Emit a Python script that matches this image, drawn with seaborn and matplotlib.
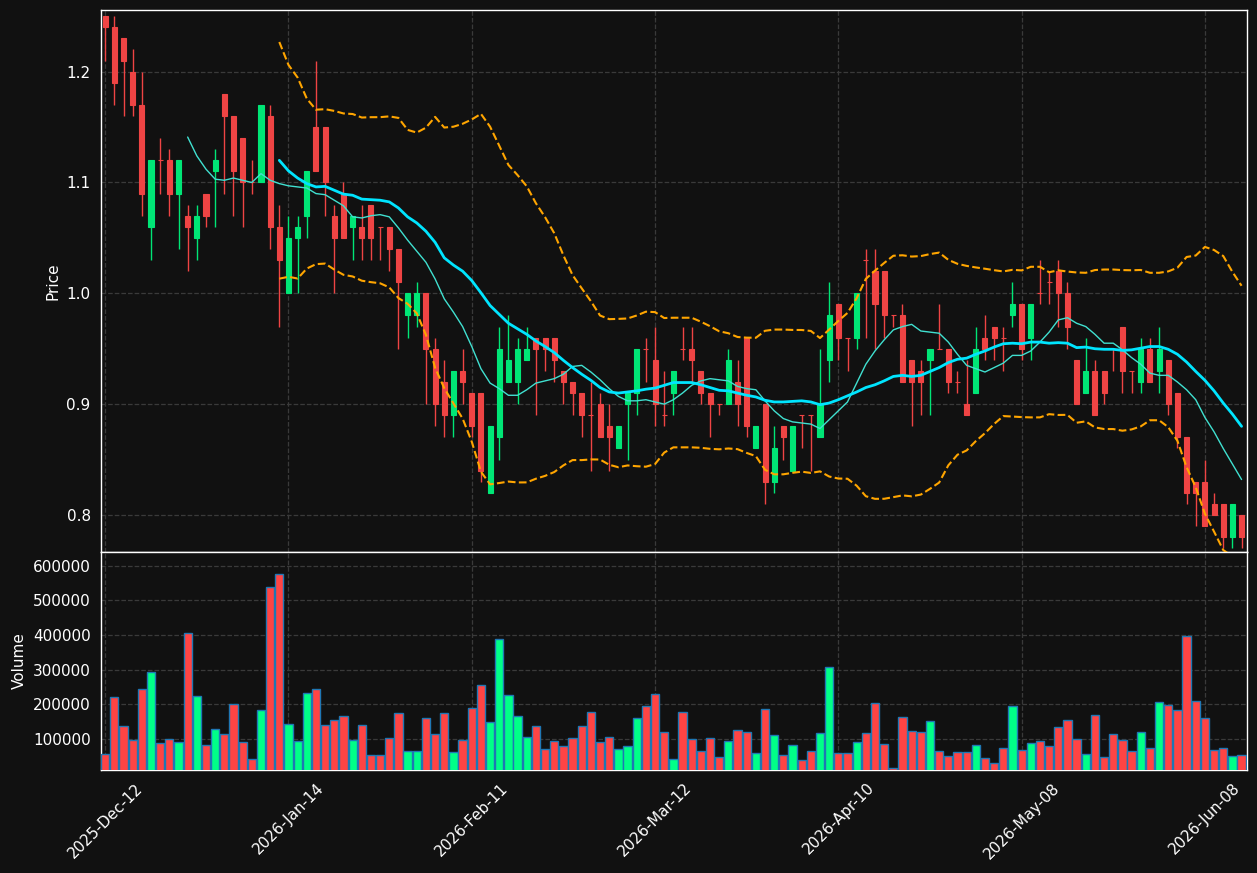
import numpy as np
import pandas as pd
import matplotlib
matplotlib.use("Agg")
import matplotlib.pyplot as plt
import seaborn as sns

opens = [1.25, 1.24, 1.23, 1.20, 1.17, 1.06, 1.12, 1.12, 1.09, 1.07,
         1.05, 1.09, 1.11, 1.18, 1.16, 1.14, 1.10, 1.10, 1.16, 1.06,
         1.00, 1.05, 1.07, 1.15, 1.15, 1.07, 1.09, 1.06, 1.06, 1.08,
         1.06, 1.06, 1.04, 0.98, 0.98, 1.00, 0.95, 0.92, 0.89, 0.93,
         0.91, 0.91, 0.82, 0.87, 0.92, 0.92, 0.94, 0.96, 0.96, 0.96,
         0.93, 0.92, 0.91, 0.89, 0.90, 0.88, 0.86, 0.90, 0.91, 0.95,
         0.94, 0.89, 0.91, 0.95, 0.95, 0.93, 0.91, 0.90, 0.90, 0.92,
         0.96, 0.86, 0.90, 0.83, 0.88, 0.84, 0.89, 0.89, 0.87, 0.94,
         0.99, 0.96, 0.96, 1.03, 1.02, 1.02, 0.98, 0.98, 0.94, 0.93,
         0.94, 0.95, 0.95, 0.92, 0.90, 0.91, 0.96, 0.97, 0.96, 0.98,
         0.99, 0.96, 1.00, 1.01, 1.02, 1.00, 0.94, 0.91, 0.93, 0.93,
         0.95, 0.97, 0.93, 0.92, 0.95, 0.93, 0.94, 0.91, 0.87, 0.83,
         0.83, 0.81, 0.81, 0.78, 0.80]
highs = [1.25, 1.25, 1.23, 1.22, 1.20, 1.12, 1.14, 1.13, 1.12, 1.08,
         1.08, 1.09, 1.13, 1.18, 1.16, 1.14, 1.12, 1.17, 1.17, 1.08,
         1.07, 1.07, 1.11, 1.21, 1.15, 1.08, 1.10, 1.07, 1.08, 1.08,
         1.06, 1.06, 1.04, 1.00, 1.01, 1.00, 0.96, 0.94, 0.93, 0.95,
         0.91, 0.91, 0.88, 0.97, 0.98, 0.96, 0.97, 0.96, 0.96, 0.96,
         0.93, 0.92, 0.91, 0.92, 0.91, 0.90, 0.88, 0.91, 0.95, 0.96,
         0.97, 0.93, 0.93, 0.97, 0.97, 0.93, 0.91, 0.90, 0.95, 0.94,
         0.96, 0.88, 0.90, 0.88, 0.88, 0.88, 0.89, 0.89, 0.95, 1.01,
         0.99, 0.96, 1.00, 1.04, 1.04, 1.02, 0.98, 0.99, 0.94, 0.94,
         0.95, 0.99, 0.95, 0.93, 0.94, 0.97, 0.98, 0.97, 0.97, 1.01,
         0.99, 0.99, 1.03, 1.02, 1.03, 1.01, 0.94, 0.96, 0.94, 0.93,
         0.95, 0.97, 0.93, 0.96, 0.96, 0.97, 0.94, 0.91, 0.87, 0.83,
         0.85, 0.82, 0.81, 0.81, 0.80]
lows = [1.21, 1.17, 1.16, 1.16, 1.07, 1.03, 1.09, 1.07, 1.04, 1.02,
        1.03, 1.06, 1.06, 1.09, 1.07, 1.06, 1.09, 1.10, 1.04, 0.97,
        1.00, 1.00, 1.05, 1.11, 1.07, 1.00, 1.05, 1.03, 1.03, 1.03,
        1.03, 1.02, 0.95, 0.96, 0.97, 0.90, 0.88, 0.87, 0.87, 0.90,
        0.87, 0.83, 0.82, 0.85, 0.92, 0.90, 0.94, 0.89, 0.93, 0.92,
        0.90, 0.89, 0.87, 0.84, 0.87, 0.84, 0.86, 0.85, 0.89, 0.92,
        0.88, 0.88, 0.89, 0.94, 0.92, 0.90, 0.87, 0.89, 0.90, 0.88,
        0.87, 0.86, 0.81, 0.82, 0.85, 0.84, 0.86, 0.84, 0.87, 0.92,
        0.94, 0.93, 0.95, 0.96, 0.95, 0.96, 0.97, 0.92, 0.88, 0.89,
        0.89, 0.95, 0.91, 0.91, 0.89, 0.91, 0.94, 0.94, 0.93, 0.97,
        0.94, 0.94, 0.99, 0.99, 0.97, 0.95, 0.90, 0.91, 0.89, 0.90,
        0.93, 0.91, 0.91, 0.91, 0.92, 0.91, 0.89, 0.86, 0.81, 0.79,
        0.79, 0.80, 0.77, 0.77, 0.77]
closes = [1.24, 1.19, 1.21, 1.17, 1.09, 1.12, 1.12, 1.09, 1.12, 1.06,
          1.07, 1.07, 1.12, 1.16, 1.11, 1.10, 1.10, 1.17, 1.06, 1.03,
          1.05, 1.06, 1.11, 1.11, 1.10, 1.05, 1.05, 1.07, 1.05, 1.05,
          1.06, 1.04, 1.01, 1.00, 1.00, 0.95, 0.90, 0.89, 0.93, 0.92,
          0.88, 0.84, 0.88, 0.95, 0.94, 0.95, 0.95, 0.95, 0.95, 0.94,
          0.92, 0.91, 0.89, 0.89, 0.87, 0.87, 0.88, 0.91, 0.95, 0.95,
          0.90, 0.89, 0.93, 0.95, 0.94, 0.91, 0.90, 0.90, 0.94, 0.90,
          0.88, 0.88, 0.83, 0.86, 0.87, 0.88, 0.89, 0.89, 0.90, 0.98,
          0.96, 0.96, 1.00, 1.03, 0.99, 0.98, 0.98, 0.92, 0.92, 0.92,
          0.95, 0.95, 0.92, 0.92, 0.89, 0.95, 0.95, 0.96, 0.96, 0.99,
          0.95, 0.99, 1.00, 1.01, 1.00, 0.97, 0.90, 0.93, 0.89, 0.91,
          0.95, 0.93, 0.93, 0.95, 0.92, 0.95, 0.90, 0.87, 0.82, 0.82,
          0.79, 0.80, 0.78, 0.81, 0.78]
volumes = [56000, 222000, 138000, 97000, 245000, 294000, 88000, 100000, 90000, 405000,
           225000, 82000, 129000, 114000, 202000, 91000, 42000, 184000, 539000, 577000,
           143000, 94000, 234000, 245000, 141000, 155000, 167000, 97000, 141000, 53000,
           53000, 103000, 175000, 65000, 65000, 161000, 114000, 175000, 62000, 97000,
           190000, 257000, 149000, 388000, 228000, 167000, 106000, 138000, 71000, 94000,
           79000, 103000, 138000, 178000, 91000, 106000, 71000, 79000, 161000, 196000,
           231000, 120000, 42000, 178000, 100000, 65000, 103000, 47000, 94000, 126000,
           120000, 59000, 187000, 111000, 53000, 82000, 39000, 65000, 117000, 309000,
           59000, 59000, 91000, 117000, 204000, 85000, 16000, 164000, 123000, 120000,
           152000, 65000, 50000, 62000, 62000, 82000, 45000, 30000, 74000, 196000,
           68000, 88000, 94000, 79000, 135000, 155000, 100000, 56000, 170000, 47000,
           114000, 97000, 65000, 120000, 74000, 207000, 199000, 184000, 396000, 210000,
           161000, 68000, 74000, 50000, 53000]
tick_labels = ["2025-Dec-12", "2026-Jan-14", "2026-Feb-11", "2026-Mar-12",
               "2026-Apr-10", "2026-May-08", "2026-Jun-08"]

df = pd.DataFrame({"Open": opens, "High": highs, "Low": lows,
                   "Close": closes, "Volume": volumes})
df["idx"] = np.arange(len(df))
df["MA10"] = df["Close"].rolling(10).mean()
df["MA20"] = df["Close"].rolling(20).mean()
sd = df["Close"].rolling(20).std(ddof=0)
df["BBU"] = df["MA20"] + 2 * sd
df["BBL"] = df["MA20"] - 2 * sd

BG = "#111111"
UP_C, DN_C = "#00e676", "#ef4444"
UP_V, DN_V = "#00ff88", "#ff4444"

sns.set_theme(style="dark")
plt.rcParams.update({
    "figure.facecolor": BG, "axes.facecolor": BG, "savefig.facecolor": BG,
    "axes.edgecolor": "white", "text.color": "white",
    "axes.labelcolor": "white", "xtick.color": "white", "ytick.color": "white",
    "font.family": ["DejaVu Sans"],
})

fig = plt.figure(figsize=(12.57, 8.73), dpi=100)
ax = fig.add_axes([0.0804, 0.3677, 0.9117, 0.6208])
axv = fig.add_axes([0.0804, 0.1180, 0.9117, 0.2497], sharex=ax)

up = df["Close"] > df["Open"]
ccol = np.where(up, UP_C, DN_C)
vcol = np.where(up, UP_V, DN_V)

# wicks
ax.vlines(df["idx"], df["Low"], df["High"], colors=ccol, linewidth=1.0, zorder=2)
# bodies
bot = np.minimum(df["Open"], df["Close"])
hgt = np.abs(df["Close"] - df["Open"])
ax.bar(df["idx"], hgt, bottom=bot, width=0.55, color=ccol, edgecolor=ccol,
       linewidth=0.8, zorder=3)

sns.lineplot(data=df, x="idx", y="MA10", ax=ax, color="#40e0d0", linewidth=1.0, zorder=4)
sns.lineplot(data=df, x="idx", y="MA20", ax=ax, color="#00e5ff", linewidth=2.0, zorder=4)
sns.lineplot(data=df, x="idx", y="BBU", ax=ax, color="#ffa500", linewidth=1.5,
             linestyle="--", zorder=4)
sns.lineplot(data=df, x="idx", y="BBL", ax=ax, color="#ffa500", linewidth=1.5,
             linestyle="--", zorder=4)

ax.set_ylim(0.7666, 1.2556)
ax.set_xlim(-0.45, 124.6)
ax.set_ylabel("Price", fontsize=11)
ax.set_xlabel("")
ax.set_yticks([0.8, 0.9, 1.0, 1.1, 1.2])
ax.tick_params(axis="x", labelbottom=False, length=0)
ax.tick_params(axis="y", labelsize=11, length=4, color="white")

axv.bar(df["idx"], df["Volume"], width=0.9, color=vcol, edgecolor="#1f77b4",
        linewidth=1.0, zorder=3)
axv.set_ylim(10500, 640000)
axv.set_ylabel("Volume", fontsize=11)
vt = [100000, 200000, 300000, 400000, 500000, 600000]
axv.set_yticks(vt)
axv.set_yticklabels([str(v) for v in vt])
ticks = list(range(0, len(df), 20))
axv.set_xticks(ticks)
axv.set_xticklabels(tick_labels, rotation=45, fontsize=11)
axv.tick_params(axis="both", labelsize=11, length=4, color="white")

for a in (ax, axv):
    a.grid(True, linestyle="--", color="#3a3a3a", linewidth=0.9)
    a.set_axisbelow(True)
    for s in a.spines.values():
        s.set_color("white")
        s.set_linewidth(1.0)

fig.savefig("out.png", dpi=100, facecolor=BG)
